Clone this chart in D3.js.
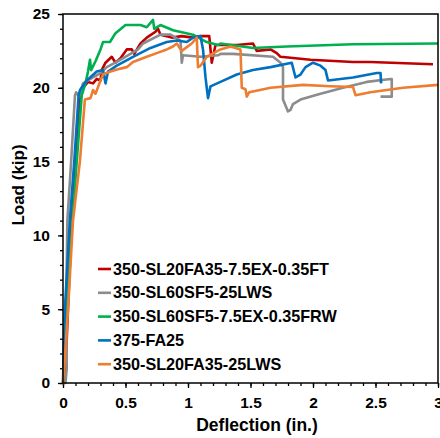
<!DOCTYPE html>
<html><head><meta charset="utf-8">
<script src="https://cdn.jsdelivr.net/npm/d3@7"></script>
<style>
html,body{margin:0;padding:0;background:#fff;}
text{font-family:"Liberation Sans",Arial,sans-serif;font-weight:bold;fill:#000;}
</style></head>
<body><svg id="chart" width="440" height="438"></svg>
<script>
// ---- data (deflection in., load kip) ----
const seriesNames = ["350-SL20FA35-7.5EX-0.35FT","350-SL60SF5-25LWS","350-SL60SF5-7.5EX-0.35FRW","375-FA25","350-SL20FA35-25LWS"];
const seriesColors = ["#C00000","#8C8C8C","#00B050","#0070C0","#ED7D31"];

const ftDefl = [0,0.02,0.04,0.07,0.1,0.14,0.16,0.2,0.24,0.27,0.3,0.31,0.34,0.39,0.42,0.46,0.51,0.55,0.57,0.62,0.67,0.74,0.76,0.78,0.87,0.95,1.04,1.1,1.17,1.19,1.22,1.39,1.52,1.55,1.66,1.71,1.74,1.98,2.32,2.46,2.96];
const ftLoad = [0,1,5,11,15,19.5,20.0,20.4,20.3,20.6,20.5,21.2,21.7,22.1,21.7,22.0,22.6,22.6,22.3,23.0,23.4,23.8,24.0,23.6,23.4,23.5,23.4,23.5,23.5,21.7,22.9,22.9,23.0,22.5,22.6,22.35,22.1,21.9,21.75,21.75,21.6];

const lwsDefl = [0,0.02,0.03,0.025,0.035,0.065,0.096,0.105,0.13,0.16,0.24,0.3,0.35,0.43,0.55,0.6,0.64,0.78,0.86,0.94,0.95,0.96,1.1,1.24,1.26,1.36,1.68,1.74,1.76,1.76,1.8,1.82,1.84,1.9,2.06,2.24,2.43,2.62,2.63,2.63,2.54];
const lwsLoad = [0,0,1,5,11,15,19.5,19.7,19.4,20.3,20.7,21.0,21.4,21.75,22.35,22.6,23.0,23.6,23.6,23.2,21.7,22.2,22.1,22.2,22.3,22.3,22.1,21.7,21.4,19.2,18.4,18.5,18.9,19.2,19.6,20.0,20.4,20.6,20.6,19.4,19.4];

const frwDefl = [0,0.03,0.075,0.11,0.15,0.18,0.2,0.216,0.225,0.26,0.3,0.32,0.376,0.42,0.5,0.62,0.67,0.72,0.73,0.78,0.88,1.04,1.15,1.24,1.26,1.52,1.79,2.32,3.0];
const frwLoad = [0,5,11,15,19.5,20.3,21.1,21.9,21.2,21.8,22.6,23.1,23.1,23.7,24.25,24.25,24.1,24.6,24.0,24.25,23.9,23.6,23.1,22.9,23.0,22.7,22.8,22.95,23.0];

const fa25Defl = [0,0.005,0.015,0.055,0.09,0.125,0.136,0.19,0.27,0.32,0.34,0.36,0.43,0.56,0.7,0.83,0.91,0.99,1.04,1.1,1.12,1.14,1.16,1.18,1.26,1.39,1.52,1.66,1.83,1.86,1.9,1.94,2.0,2.06,2.1,2.12,2.32,2.51,2.54,2.545];
const fa25Load = [0,2,5,11,15,19.5,19.85,20.5,21.1,21.2,20.3,21.1,21.5,22.1,22.7,23.1,23.2,23.1,23.4,23.5,22.6,20.7,19.3,20.1,20.4,20.9,21.2,21.4,21.7,20.7,20.9,21.4,21.7,21.5,21.2,20.5,20.7,21.0,21.0,20.3];

const lws2Defl = [0,0.01,0.04,0.08,0.135,0.175,0.22,0.24,0.26,0.3,0.32,0.38,0.46,0.51,0.56,0.67,0.75,0.83,0.88,0.91,0.95,1.03,1.07,1.08,1.1,1.15,1.26,1.34,1.42,1.43,1.46,1.47,1.49,1.66,1.92,2.14,2.32,2.34,2.46,2.72,3.0];
const lws2Load = [0,1,5,11,15,19.2,19.3,19.85,19.6,20.5,20.9,21.1,21.3,21.4,21.75,22.1,22.35,22.6,22.8,23.0,22.5,23.0,23.4,21.4,21.5,22.1,22.6,22.8,22.6,20.0,19.9,19.4,19.7,20.0,20.2,20.1,20.05,19.5,19.7,20.0,20.2];

const xTicks = [0,0.5,1,1.5,2,2.5,3];
const yTicks = [0,5,10,15,20,25];
const xTickLabels = ["0","0.5","1","1.5","2","2.5","3"];
const yTickLabels = ["0","5","10","15","20","25"];

const seriesDefl = [ftDefl,lwsDefl,frwDefl,fa25Defl,lws2Defl];
const seriesLoad = [ftLoad,lwsLoad,frwLoad,fa25Load,lws2Load];

// ---- layout ----
const L = 63, R = 438, T = 14, B = 383;
const svg = d3.select("#chart");
const x = d3.scaleLinear().domain([0,3]).range([L,R]);
const y = d3.scaleLinear().domain([0,25]).range([B,T]);

// minor ticks
const gx = svg.append("g").attr("transform",`translate(0,${B})`);
gx.call(d3.axisBottom(x).tickValues(d3.range(0,3.0001,0.1)).tickSize(3).tickFormat(""));
gx.select(".domain").remove();
const gxM = svg.append("g").attr("transform",`translate(0,${B})`);
gxM.call(d3.axisBottom(x).tickValues(xTicks).tickSize(5).tickPadding(9).tickFormat((d,i)=>xTickLabels[i]));
gxM.select(".domain").remove();

const gy = svg.append("g").attr("transform",`translate(${L},0)`);
gy.call(d3.axisLeft(y).tickValues(d3.range(0,25.001,1)).tickSize(3).tickFormat(""));
gy.select(".domain").remove();
const gyM = svg.append("g").attr("transform",`translate(${L},0)`);
gyM.call(d3.axisLeft(y).tickValues(yTicks).tickSize(5).tickPadding(8).tickFormat((d,i)=>yTickLabels[i]));
gyM.select(".domain").remove();

svg.selectAll(".tick line").attr("stroke","#000").attr("stroke-width",1.3);
svg.selectAll(".tick text").style("font-size","15.5px").style("font-family","'Liberation Sans',Arial,sans-serif").style("font-weight","bold").attr("fill","#000");

// series
const line = d3.line().x(d=>x(d[0])).y(d=>y(d[1]));
seriesNames.forEach((n,i)=>{
  const pts = seriesDefl[i].map((d,j)=>[d, seriesLoad[i][j]]);
  svg.append("path").datum(pts).attr("d",line).attr("fill","none")
    .attr("stroke",seriesColors[i]).attr("stroke-width",2.6).attr("stroke-linejoin","round");
});

// frame
svg.append("rect").attr("x",L).attr("y",T).attr("width",R-L).attr("height",B-T)
  .attr("fill","none").attr("stroke","#000").attr("stroke-width",1.5);

// legend
const lg = svg.append("g");
seriesNames.forEach((n,i)=>{
  const cy = 269 + i*23.8;
  lg.append("line").attr("x1",98).attr("x2",111).attr("y1",cy).attr("y2",cy)
    .attr("stroke",seriesColors[i]).attr("stroke-width",2.6);
  lg.append("text").attr("x",113).attr("y",cy+5.5).style("font-size","16.2px").text(n);
});

// axis titles
svg.append("text").attr("x",257).attr("y",431).attr("text-anchor","middle").style("font-size","17.5px").text("Deflection (in.)");
svg.append("text").attr("transform","translate(24,185) rotate(-90)").attr("text-anchor","middle").style("font-size","17px").text("Load (kip)");
</script></body></html>
